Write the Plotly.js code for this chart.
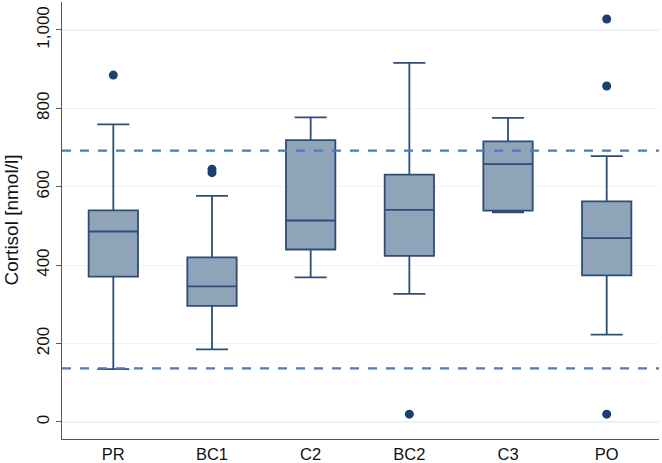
<!DOCTYPE html>
<html>
<head>
<meta charset="utf-8">
<script src="https://cdn.plot.ly/plotly-3.0.1.min.js"></script>
<style>html,body{margin:0;padding:0;background:#fff;}#chart{width:662px;height:463px;}</style>
</head>
<body>
<div id="chart"></div>
<script>
const categories = ["PR", "BC1", "C2", "BC2", "C3", "PO"];
const lowerWhisker = [135, 185, 369, 327, 535, 223];
const q1Values = [371, 296, 440, 424, 539, 374];
const medianValues = [486, 346, 514, 541, 658, 469];
const q3Values = [540, 420, 719, 631, 716, 563];
const upperWhisker = [759, 577, 777, 916, 776, 678];
const outlierCats = ["PR", "BC1", "BC1", "BC2", "PO", "PO", "PO"];
const outlierValues = [885, 645, 636, 20, 1028, 857, 20];
const refLines = [692, 137];
const yTicks = [0, 200, 400, 600, 800, 1000];

const boxTrace = {
  type: "box",
  x: categories,
  q1: q1Values,
  median: medianValues,
  q3: q3Values,
  lowerfence: lowerWhisker,
  upperfence: upperWhisker,
  fillcolor: "#8fa4b9",
  line: {color: "#2c4d78", width: 1.8},
  width: 0.5,
  whiskerwidth: 0.65,
  boxpoints: false,
  hoverinfo: "skip",
  showlegend: false
};

const outlierTrace = {
  type: "scatter",
  mode: "markers",
  x: outlierCats,
  y: outlierValues,
  marker: {color: "#1b3f6e", size: 9},
  showlegend: false,
  hoverinfo: "skip"
};

const shapes = refLines.map(v => ({
  type: "line", xref: "paper", x0: 0, x1: 1, yref: "y", y0: v, y1: v,
  line: {color: "#4a7ac0", width: 2.2, dash: "dash"},
  layer: "above"
}));

const layout = {
  width: 662, height: 463,
  margin: {l: 62, r: 3, t: 2, b: 24},
  paper_bgcolor: "#fff", plot_bgcolor: "#fff",
  font: {family: "Liberation Sans, Arial, sans-serif", color: "#111"},
  showlegend: false,
  shapes: shapes,
  annotations: [{
    text: "Cortisol [nmol/l]", xref: "paper", yref: "paper",
    x: -62/597, xanchor: "center", xshift: 11, y: 0.5, yanchor: "middle",
    textangle: -90, showarrow: false,
    font: {size: 19, color: "#111"}
  }],
  xaxis: {
    type: "category",
    categoryorder: "array",
    categoryarray: categories,
    range: [-0.52, 5.53],
    showgrid: false,
    zeroline: false,
    showline: true, linecolor: "#555", linewidth: 1.2,
    ticks: "",
    ticklabelstandoff: 0,
    tickfont: {size: 16.5, color: "#111"}
  },
  yaxis: {
    range: [-43.4, 1071.4],
    tickvals: yTicks,
    ticktext: yTicks.map(v => v.toLocaleString("en-US")),
    tickangle: -90,
    ticks: "outside", ticklen: 5, tickcolor: "#555", tickwidth: 1,
    tickfont: {size: 17, color: "#111"},
    showgrid: true, gridcolor: "#edf2f5", gridwidth: 1.2,
    zeroline: false,
    showline: true, linecolor: "#555", linewidth: 1.2
  }
};

Plotly.newPlot("chart", [boxTrace, outlierTrace], layout, {staticPlot: true, displayModeBar: false});
</script>
</body>
</html>
